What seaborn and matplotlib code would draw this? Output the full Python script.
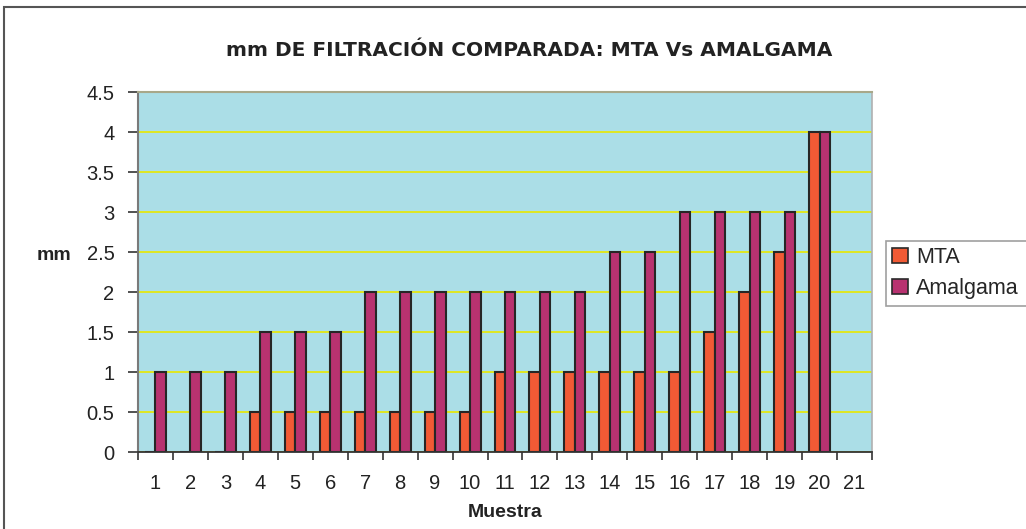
import numpy as np
import pandas as pd
import matplotlib
matplotlib.use("Agg")
import matplotlib.pyplot as plt
import seaborn as sns
from matplotlib.patches import Rectangle
from matplotlib.ticker import MultipleLocator, FixedLocator, FuncFormatter

categories = [str(i) for i in range(1, 22)]
mta = [0, 0, 0, 0.5, 0.5, 0.5, 0.5, 0.5, 0.5, 0.5, 1, 1, 1, 1, 1, 1, 1.5, 2, 2.5, 4, np.nan]
amalgama = [1, 1, 1, 1.5, 1.5, 1.5, 2, 2, 2, 2, 2, 2, 2, 2.5, 2.5, 3, 3, 3, 3, 4, np.nan]
series_names = ["MTA", "Amalgama"]

df = pd.DataFrame({
    "Muestra": categories * 2,
    "mm": mta + amalgama,
    "Serie": [series_names[0]] * len(categories) + [series_names[1]] * len(categories),
})

sns.set_style("white")
plt.rcParams["font.family"] = ["Liberation Sans", "DejaVu Sans"]

W, H = 1026, 529
fig = plt.figure(figsize=(W / 100, H / 100), dpi=100)
ax = fig.add_axes([138 / W, 1 - 452 / H, (872 - 138) / W, (452 - 92) / H])

colors = {"MTA": "#F15A35", "Amalgama": "#B83270"}
sns.barplot(data=df, x="Muestra", y="mm", hue="Serie", order=categories,
            hue_order=series_names, palette=colors, width=0.6, saturation=1,
            edgecolor="#262626", linewidth=1.5, ax=ax, legend=True, errorbar=None)

ax.set_facecolor("#ABDEE7")
ax.set_ylim(0, 4.5)
ax.set_xlim(-0.5, len(categories) - 0.5)
ax.yaxis.set_major_locator(MultipleLocator(0.5))
ax.yaxis.set_major_formatter(FuncFormatter(lambda v, p: "%g" % v))
ax.yaxis.grid(True, color="#E8E800", linewidth=1.2)
ax.set_axisbelow(True)

# x ticks at category boundaries
ax.xaxis.set_minor_locator(FixedLocator(np.arange(-0.5, len(categories), 1.0)))
ax.tick_params(axis="x", which="major", bottom=True, length=0, pad=16, labelsize=14.5,
               colors="#222222")
ax.tick_params(axis="x", which="minor", bottom=True, length=6, width=1.2, color="#333333",
               direction="out")
ax.tick_params(axis="y", which="major", left=True, length=7, width=1.2, color="#333333",
               direction="out", pad=10, labelsize=14.5, labelcolor="#222222")

ax.spines["left"].set_color("#7a7a7a")
ax.spines["left"].set_linewidth(1.5)
ax.spines["bottom"].set_color("#333333")
ax.spines["bottom"].set_linewidth(1.3)
ax.spines["top"].set_color("#A8A88A")
ax.spines["top"].set_linewidth(1.5)
ax.spines["right"].set_color("#B0B0B0")
ax.spines["right"].set_linewidth(1.2)

ax.set_xlabel("Muestra", fontsize=14, fontweight="bold", color="#222222", labelpad=8)
ax.set_ylabel("")
fig.text(54 / W, 1 - 256 / H, "mm", fontsize=14, fontweight="bold", color="#222222",
         ha="center", va="center")

fig.text(529 / W, 1 - 51 / H, "mm DE FILTRACIÓN COMPARADA: MTA Vs AMALGAMA",
         fontsize=14.5, fontweight="bold", color="#222222", ha="center", va="center",
         family=["DejaVu Sans"])

handles, labels = ax.get_legend_handles_labels()
ax.get_legend().remove()
leg = fig.legend(handles, labels, loc="upper left",
                 bbox_to_anchor=(886 / W, 1 - 302 / H, 160 / W, 61 / H), mode="expand",
                 frameon=True, fancybox=False, fontsize=15.5, handlelength=0.7,
                 handleheight=0.7, handletextpad=0.4, borderpad=0.3, labelspacing=0.45,
                 borderaxespad=0)
leg.get_frame().set_edgecolor("#888888")
leg.get_frame().set_linewidth(1.2)
for h in leg.legend_handles:
    h.set_edgecolor("#2a2a2a")
    h.set_linewidth(1.2)

fig.patches.append(Rectangle((4 / W, -0.1), 1.2, 1 - 7 / H + 0.1, transform=fig.transFigure,
                             fill=False, edgecolor="#555555", linewidth=1.5))

fig.savefig("out.png", dpi=100)
